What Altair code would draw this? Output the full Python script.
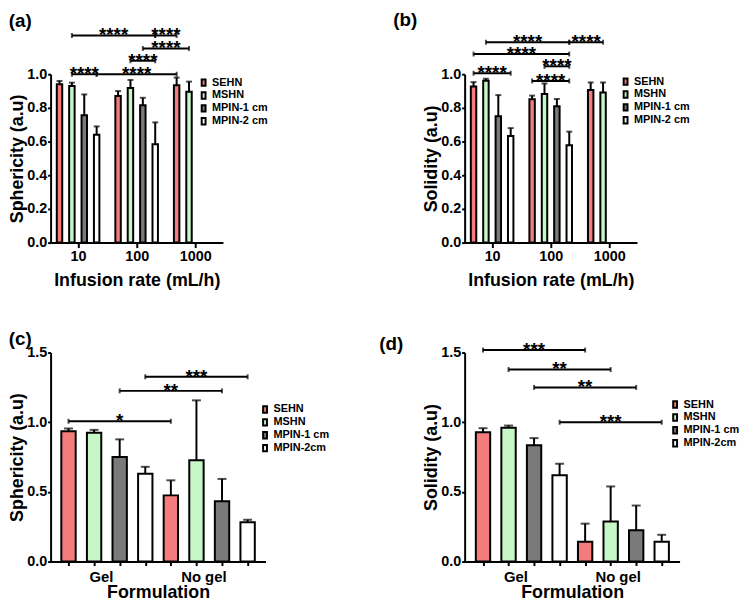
import altair as alt
import pandas as pd

FONT = "Liberation Sans"

series_ab = ["SEHN", "MSHN", "MPIN-1 cm", "MPIN-2 cm"]
series_cd = ["SEHN", "MSHN", "MPIN-1 cm", "MPIN-2cm"]
bar_colors = ["#F47C7C", "#C6F7C6", "#7A7A7A", "#FFFFFF"]
rates = ["10", "100", "1000"]
forms = ["Gel", "No gel"]

# (a) Sphericity vs infusion rate (mean, SD) per series, per rate
a_sehn = [0.94, 0.87, 0.935]
a_sehn_sd = [0.02, 0.03, 0.045]
a_mshn = [0.93, 0.918, 0.896]
a_mshn_sd = [0.02, 0.048, 0.06]
a_mpin1 = [0.757, 0.816]
a_mpin1_sd = [0.123, 0.044]
a_mpin2 = [0.64, 0.584]
a_mpin2_sd = [0.05, 0.13]

# (b) Solidity vs infusion rate
b_sehn = [0.927, 0.851, 0.906]
b_sehn_sd = [0.026, 0.022, 0.045]
b_mshn = [0.961, 0.882, 0.892]
b_mshn_sd = [0.012, 0.063, 0.059]
b_mpin1 = [0.751, 0.81]
b_mpin1_sd = [0.125, 0.043]
b_mpin2 = [0.633, 0.578]
b_mpin2_sd = [0.047, 0.081]

# (c) Sphericity vs formulation (Gel, No gel)
c_sehn = [0.936, 0.475]
c_sehn_sd = [0.019, 0.108]
c_mshn = [0.924, 0.727]
c_mshn_sd = [0.021, 0.43]
c_mpin1 = [0.75, 0.433]
c_mpin1_sd = [0.127, 0.16]
c_mpin2 = [0.63, 0.282]
c_mpin2_sd = [0.05, 0.018]

# (d) Solidity vs formulation
d_sehn = [0.928, 0.142]
d_sehn_sd = [0.029, 0.13]
d_mshn = [0.961, 0.288]
d_mshn_sd = [0.015, 0.251]
d_mpin1 = [0.834, 0.224]
d_mpin1_sd = [0.052, 0.178]
d_mpin2 = [0.619, 0.142]
d_mpin2_sd = [0.083, 0.05]

# significance brackets: (series_from, group_from, series_to, group_to, level, stars)
a_brackets = [
    (1, 0, 3, 0, 1.0, "****"),
    (3, 0, 0, 2, 1.0, "****"),
    (1, 1, 3, 1, 1.08, "****"),
    (2, 1, 1, 2, 1.153, "****"),
    (1, 0, 3, 1, 1.23, "****"),
    (3, 1, 0, 2, 1.23, "****"),
]
b_brackets = [
    (0, 1, 3, 1, 0.96, "****"),
    (0, 0, 3, 0, 1.006, "****"),
    (1, 1, 3, 1, 1.047, "****"),
    (0, 0, 3, 1, 1.12, "****"),
    (1, 0, 3, 1, 1.19, "****"),
    (3, 1, 1, 2, 1.19, "****"),
]
c_brackets = [
    (0, 0, 0, 1, 1.007, "*"),
    (2, 0, 2, 1, 1.225, "**"),
    (3, 0, 3, 1, 1.326, "***"),
]
d_brackets = [
    (0, 0, 0, 1, 1.518, "***"),
    (1, 0, 1, 1, 1.378, "**"),
    (2, 0, 2, 1, 1.25, "**"),
    (3, 0, 3, 1, 1.0, "***"),
]

GAP_AB = 4.73
GAP_CD = 4.0


def bar_table(series, means_list, sds_list, groups, gap):
    rows = []
    for s, (name, means, sds) in enumerate(zip(series, means_list, sds_list)):
        for g, (m, sd) in enumerate(zip(means, sds)):
            rows.append(dict(series=name, group=groups[g], pos=g * gap + s,
                             mean=m, top=m + sd))
    return pd.DataFrame(rows)


def bracket_tables(brackets, gap):
    lines, ends, labels = [], [], []
    for s1, g1, s2, g2, lvl, stars in brackets:
        x1 = g1 * gap + s1
        x2 = g2 * gap + s2
        lines.append(dict(x1=x1, x2=x2, y=lvl))
        ends += [dict(x=x1, y=lvl), dict(x=x2, y=lvl)]
        labels.append(dict(x=(x1 + x2) / 2, y=lvl, text=stars))
    return pd.DataFrame(lines), pd.DataFrame(ends), pd.DataFrame(labels)


def panel(bars, brackets, gap, series, xdomain, ydomain, yticks, width, height,
          xaxis, ytitle, xtitle, legend_xy, row_pad, title, title_offset, title_dx,
          bar_size, cap_size):
    xs = alt.Scale(domain=xdomain, nice=False, zero=False, padding=0)
    ys = alt.Scale(domain=ydomain, nice=False, zero=True, padding=0)
    yaxis = alt.Axis(values=yticks, format=".1f", tickSize=3, labelPadding=1,
                     titlePadding=0, labelOverlap=False, labelFlush=False)

    def X(field):
        return alt.X(field, scale=xs, axis=xaxis, title=xtitle)

    def Y(field):
        return alt.Y(field, scale=ys, axis=yaxis, title=ytitle)

    base = alt.Chart(bars)
    barl = base.mark_bar(size=bar_size, stroke="black", strokeWidth=2).encode(
        x=X("pos:Q"),
        y=Y("mean:Q"),
        color=alt.Color(
            "series:N",
            scale=alt.Scale(domain=series, range=bar_colors),
            legend=alt.Legend(
                orient="none", legendX=legend_xy[0], legendY=legend_xy[1],
                title=None, symbolType="M-0.6,-1H0.6V1H-0.6Z", symbolSize=42,
                symbolStrokeColor="black", symbolStrokeWidth=2,
                labelFont=FONT, labelFontSize=11, labelFontWeight="bold",
                labelColor="black", rowPadding=row_pad, padding=0, labelOffset=3,
                symbolOpacity=1,
            ),
        ),
    )
    err = base.mark_rule(color="black", strokeWidth=2).encode(
        x=X("pos:Q"), y=Y("mean:Q"), y2="top:Q",
    )
    cap = base.mark_tick(color="black", thickness=2, size=cap_size,
                         orient="horizontal").encode(x=X("pos:Q"), y=Y("top:Q"))
    lines, ends, labels = bracket_tables(brackets, gap)
    brk = alt.Chart(lines).mark_rule(color="black", strokeWidth=2).encode(
        x=X("x1:Q"), x2="x2:Q", y=Y("y:Q"),
    )
    brk_end = alt.Chart(ends).mark_tick(color="black", thickness=2, size=5,
                                        orient="vertical").encode(
        x=X("x:Q"), y=Y("y:Q"),
    )
    brk_txt = alt.Chart(labels).mark_text(
        font=FONT, fontSize=19, fontWeight="bold", color="black",
        baseline="alphabetic", dy=6
    ).encode(x=X("x:Q"), y=Y("y:Q"), text="text:N")
    return alt.layer(barl, err, cap, brk, brk_end, brk_txt).properties(
        width=width, height=height,
        title=alt.TitleParams(text=title, anchor="start", font=FONT, fontSize=19,
                              fontWeight="bold", color="black",
                              offset=title_offset, dx=title_dx),
    )


def rate_axis(gap):
    centers = [g * gap + 1.5 for g in range(len(rates))]
    expr = "'" + rates[-1] + "'"
    for g in range(len(rates) - 2, -1, -1):
        expr = "datum.value < %.3f ? '%s' : (%s)" % (centers[g] + gap / 2, rates[g], expr)
    return alt.Axis(values=centers, labelExpr=expr, tickSize=5, labelPadding=2,
                    titlePadding=9, labelAngle=0, labelOverlap=False, labelFlush=False)


def form_axis(gap):
    vals = [g * gap + s for g in range(len(forms)) for s in range(4)]
    expr = "''"
    for g in range(len(forms) - 1, -1, -1):
        expr = "datum.value == %g ? '%s' : (%s)" % (g * gap + 1, forms[g], expr)
    return alt.Axis(values=vals, labelExpr=expr, tickSize=4, labelPadding=4,
                    titlePadding=-1, labelAngle=0, labelOffset=7, labelFontSize=15,
                    labelOverlap=False, labelFlush=False)


ta = bar_table(series_ab, [a_sehn, a_mshn, a_mpin1, a_mpin2],
               [a_sehn_sd, a_mshn_sd, a_mpin1_sd, a_mpin2_sd], rates, GAP_AB)
tb = bar_table(series_ab, [b_sehn, b_mshn, b_mpin1, b_mpin2],
               [b_sehn_sd, b_mshn_sd, b_mpin1_sd, b_mpin2_sd], rates, GAP_AB)
tc = bar_table(series_cd, [c_sehn, c_mshn, c_mpin1, c_mpin2],
               [c_sehn_sd, c_mshn_sd, c_mpin1_sd, c_mpin2_sd], forms, GAP_CD)
td = bar_table(series_cd, [d_sehn, d_mshn, d_mpin1, d_mpin2],
               [d_sehn_sd, d_mshn_sd, d_mpin1_sd, d_mpin2_sd], forms, GAP_CD)

yt_ab = [0, 0.2, 0.4, 0.6, 0.8, 1.0]
yt_cd = [0, 0.5, 1.0, 1.5]

pa = panel(ta, a_brackets, GAP_AB, series_ab, [-0.72, 13.2], [0, 1.0], yt_ab,
           174, 170, rate_axis(GAP_AB), "Sphericity (a.u)", "Infusion rate (mL/h)",
           (149, 3), -5, "(a)", -4, 0, 5.5, 6)
pb = panel(tb, b_brackets, GAP_AB, series_ab, [-0.72, 13.2], [0, 1.0], yt_ab,
           174, 170, rate_axis(GAP_AB), "Solidity (a.u)", "Infusion rate (mL/h)",
           (157, 2), -5, "(b)", 3, -30, 5.5, 6)
pc = panel(tc, c_brackets, GAP_CD, series_cd, [-0.7, 7.7], [0, 1.5], yt_cd,
           217, 211, form_axis(GAP_CD), "Sphericity (a.u)", "Formulation",
           (211, 52), -2.5, "(c)", -4, 0, 14.5, 9)
pd_ = panel(td, d_brackets, GAP_CD, series_cd, [-0.72, 7.7], [0, 1.5], yt_cd,
            217, 211, form_axis(GAP_CD), "Solidity (a.u)", "Formulation",
            (207, 47), -2.5, "(d)", -13, -44, 14.5, 9)

chart = (
    alt.concat(pa, pb, pc, pd_, columns=2, spacing={"row": 70, "column": 201},
               bounds="flush", align="all")
    .resolve_scale(color="independent")
    .resolve_legend(color="independent")
    .properties(padding=0)
    .configure_view(stroke=None)
    .configure_axis(
        labelFont=FONT, labelFontSize=14.5, labelFontWeight="bold", labelColor="black",
        titleFont=FONT, titleFontSize=18, titleFontWeight="bold", titleColor="black",
        domainColor="black", domainWidth=2, tickColor="black", tickWidth=2, grid=False,
        labelOverlap=False,
    )
)

chart.save("out.html", embed_options={"renderer": "svg", "actions": False})
